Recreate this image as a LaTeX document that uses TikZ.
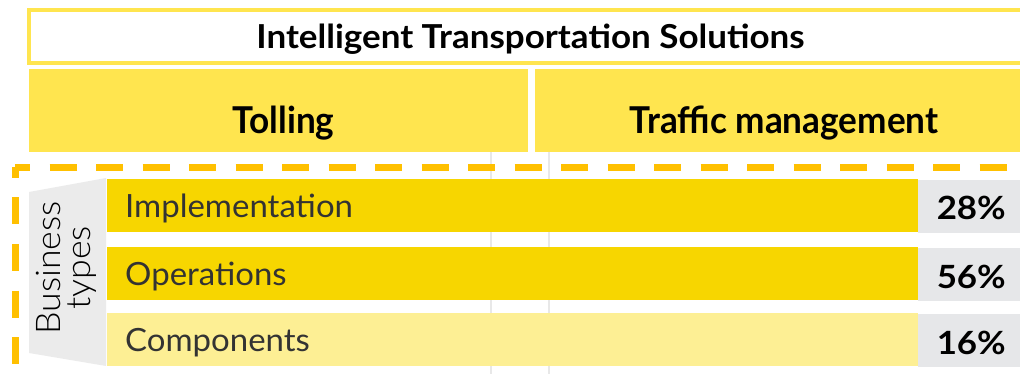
\documentclass[tikz,border=0pt]{standalone}
\usepackage{fontspec}
\setmainfont{Lato}
\newfontfamily\lightfont[FakeStretch=1.05]{Lato Light}
\newfontfamily\titlefont[FakeStretch=1.06]{Lato Bold}
\newfontfamily\headfont[FakeStretch=0.95]{Lato Bold}
\newfontfamily\pctfont[FakeStretch=1.09]{Lato Bold}
\newfontfamily\barfont[FakeStretch=1.03]{Lato}
\definecolor{headyellow}{HTML}{FFE54F}
\definecolor{dashyellow}{HTML}{FFC000}
\definecolor{bardark}{HTML}{F7D600}
\definecolor{barlight}{HTML}{FDEF94}
\definecolor{pctgrey}{HTML}{E6E7E9}
\definecolor{sidegrey}{HTML}{EBEBEB}
\definecolor{labelgrey}{HTML}{333333}
\definecolor{rulegrey}{HTML}{E8E8E8}
\begin{document}
\begin{tikzpicture}[
		x=1pt,y=-1pt,
		line join=miter,
		headtext/.style={anchor=base,inner sep=0pt,font=\headfont\fontsize{37}{37}\selectfont},
		bartext/.style={anchor=base west,inner sep=0pt,text=labelgrey,font=\barfont\fontsize{32}{32}\selectfont},
		pcttext/.style={anchor=base east,inner sep=0pt,font=\pctfont\fontsize{32}{32}\selectfont},
		dashline/.style={dashyellow,line width=7pt,dash pattern=on 27pt off 19.5pt}
		]
		\useasboundingbox (0,0) rectangle (1020,374);
		\draw[rulegrey,line width=1.5pt] (491,152) -- (491,374) (549,152) -- (549,374);
		\draw[headyellow,line width=4pt,fill=white] (29,10) rectangle (1040,63);
		\node[anchor=base,inner sep=0pt,font=\titlefont\fontsize{33}{33}\selectfont] (title) at (530.5,48.5) {Intelligent Transportation Solutions};
		\fill[headyellow] (29,69) rectangle (528,152);
		\fill[headyellow] (535,69) rectangle (1040,152);
		\node[headtext] (tolling) at (283.5,133.3) {Tolling};
		\node[headtext] (traffic) at (784,133.3) {Traffic management};
		\draw[dashline,dash phase=12pt] (15,167.5) -- (1040,167.5);
		\draw[dashline,dash phase=16.5pt] (15,167.5) -- (15,377) -- (1040,377);
		\fill[sidegrey] (29,192) -- (106,178) -- (106,366) -- (29,353) -- cycle;
		\node[rotate=90,align=center,inner sep=0pt,font=\lightfont\fontsize{34}{30}\selectfont] (business) at (66,268) {Business\\types};
		\foreach \y/\name/\txt/\pct/\col in {179/impl/Implementation/28/bardark,247/oper/Operations/56/bardark,313/comp/Components/16/barlight}{
			\fill[\col] (107,\y) rectangle (918,\y+53);
			\fill[pctgrey] (918,\y+1) rectangle (1040,\y+54);
			\node[bartext] (\name) at (125,\y+38.3) {\txt};
			\node[pcttext] (\name pct) at (1006,\y+41) {\pct\%};
		}
		\end{tikzpicture}
\end{document}
